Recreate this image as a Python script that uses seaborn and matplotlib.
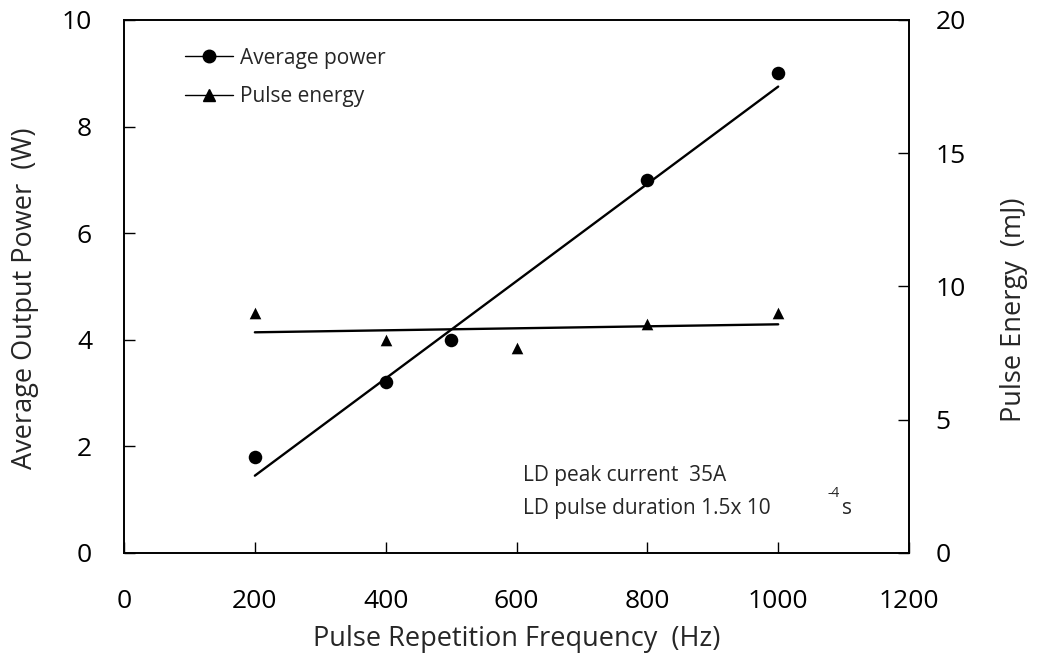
import matplotlib
matplotlib.use("Agg")
import matplotlib.pyplot as plt
import seaborn as sns
from matplotlib.lines import Line2D

# ---- data ----
freq_power = [200, 400, 500, 800, 1000]
avg_power = [1.8, 3.2, 4.0, 7.0, 9.0]
freq_energy = [200, 400, 600, 800, 1000]
pulse_energy = [9.0, 8.0, 7.7, 8.6, 9.0]
fit_freq = [200, 1000]
fit_power = [1.45, 8.75]
fit_energy = [8.28, 8.58]

x_ticks = [0, 200, 400, 600, 800, 1000, 1200]
left_ticks = [0, 2, 4, 6, 8, 10]
right_ticks = [0, 5, 10, 15, 20]

legend_labels = ["Average power", "Pulse energy"]
x_label = "Pulse Repetition Frequency  (Hz)"
left_label = "Average Output Power  (W)"
right_label = "Pulse Energy  (mJ)"

sns.set_style("ticks")
plt.rcParams['font.family'] = ['Open Sans', 'DejaVu Sans']

fig = plt.figure(figsize=(10.37, 6.59), dpi=100)
ax = fig.add_axes([0.1196, 0.1609, 0.7570, 0.8088])
ax2 = ax.twinx()

sns.lineplot(x=fit_freq, y=fit_power, ax=ax, color='black', lw=1.7)
sns.scatterplot(x=freq_power, y=avg_power, ax=ax, color='black', marker='o',
                s=95, linewidth=0, zorder=3)
sns.lineplot(x=fit_freq, y=fit_energy, ax=ax2, color='black', lw=1.7)
sns.scatterplot(x=freq_energy, y=pulse_energy, ax=ax2, color='black', marker='^',
                s=70, linewidth=0, zorder=3)

ax.set_xlim(0, 1200)
ax.set_ylim(0, 10)
ax2.set_ylim(0, 20)
ax.set_xticks(x_ticks)
ax.set_yticks(left_ticks)
ax2.set_yticks(right_ticks)

ax.tick_params(axis='both', direction='in', length=8, width=1, labelsize=19, colors='black')
ax.tick_params(axis='y', pad=23)
ax.tick_params(axis='x', pad=26)
ax2.tick_params(axis='y', direction='in', length=8, width=1, labelsize=19, pad=19, colors='black')

for a in (ax, ax2):
    for sp in a.spines.values():
        sp.set_linewidth(1.2)
        sp.set_color('black')

ax.set_xlabel(x_label, fontsize=19.5, labelpad=8)
ax.set_ylabel(left_label, fontsize=19.5)
ax.yaxis.set_label_coords(-0.108, 0.478)
ax2.set_ylabel(right_label, fontsize=19.5)
ax2.yaxis.set_label_coords(1.116, 0.456)

handles = [
    Line2D([0], [0], color='black', lw=1.0, marker='o', markersize=9),
    Line2D([0], [0], color='black', lw=1.0, marker='^', markersize=8),
]
ax.legend(handles, legend_labels, loc='upper left', bbox_to_anchor=(0.078, 0.948),
          frameon=False, fontsize=15, handlelength=2.3, handletextpad=0.35,
          labelspacing=0.83, borderpad=0, borderaxespad=0)

ax.text(610, 1.46, "LD peak current  35A", fontsize=15, va='center', ha='left')
ax.text(610, 0.84, "LD pulse duration 1.5x 10", fontsize=15, va='center', ha='left')
ax.text(1075, 1.12, "-4", fontsize=10, va='center', ha='left')
ax.text(1098, 0.84, "s", fontsize=15, va='center', ha='left')

fig.savefig("out.png", dpi=100)
